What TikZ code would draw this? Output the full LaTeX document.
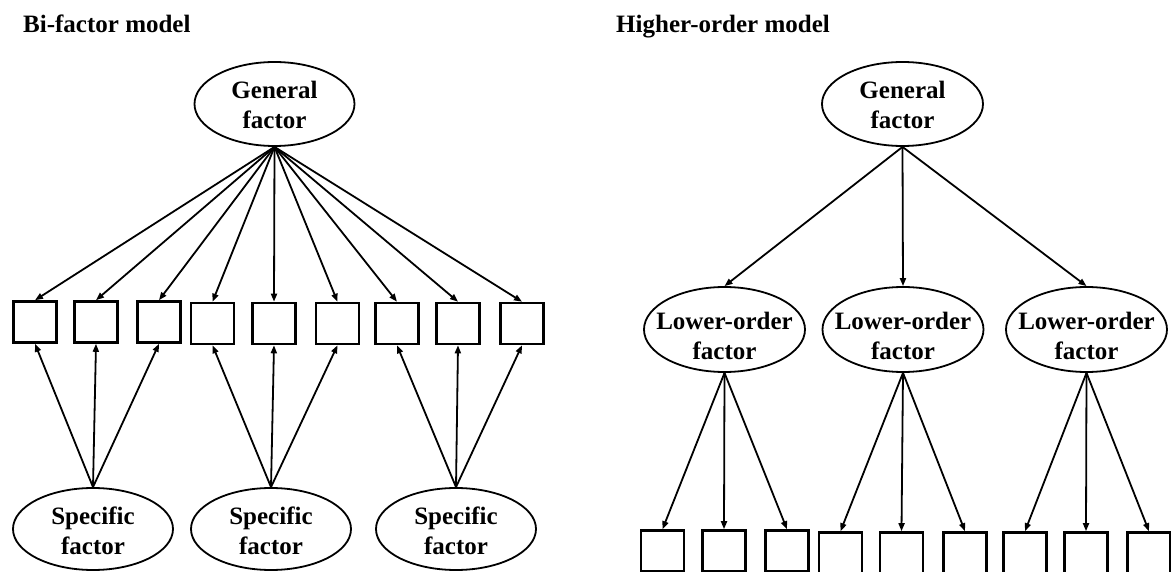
\documentclass[tikz,border=0pt]{standalone}
\usepackage{fontspec}
\setmainfont{Liberation Serif}
\usetikzlibrary{arrows.meta,shapes.geometric}
\begin{document}
\begin{tikzpicture}[x=1pt,y=-1pt,
  ell/.style={draw, ellipse, line width=1.8pt, inner sep=0pt},
  obs/.style={draw, rectangle, line width=2.6pt, minimum width=43pt, minimum height=41pt, inner sep=0pt},
  txt/.style={font=\fontsize{25}{30}\selectfont\bfseries, align=center, inner sep=0pt},
  arr/.style={line width=1.8pt, -{Triangle[length=8pt,width=6pt]}},
  ]
\useasboundingbox (0,0) rectangle (1171,572);

% titles
\node[txt, anchor=base west] (t1) at (23,33) {Bi-factor model};
\node[txt, anchor=base west] (t2) at (616,33) {Higher-order model};

% ---------------- Bi-factor model ----------------
\node[ell, minimum width=160pt, minimum height=84pt] (gL) at (274.5,104) {};
\node[txt] (gLt) at (274.5,104.5) {General\\factor};

\foreach \i/\x/\y in {1/35/322, 2/96/322, 3/159/322, 4/212.5/323.5, 5/274/323.5,
                      6/337.5/323.5, 7/397/323.5, 8/458/323.5, 9/522/323.5} {
  \node[obs] (bl\i) at (\x,\y) {};
}

\foreach \i/\x in {1/93, 2/271, 3/456} {
  \node[ell, minimum width=160pt, minimum height=82pt] (s\i) at (\x,529) {};
  \node[txt] (s\i t) at (\x,531) {Specific\\factor};
}

\foreach \i in {1,...,9} {
  \draw[arr] (gL.south) -- (bl\i.north);
}
\foreach \s/\a/\b/\c in {1/1/2/3, 2/4/5/6, 3/7/8/9} {
  \draw[arr] (s\s.north) -- (bl\a.south);
  \draw[arr] (s\s.north) -- (bl\b.south);
  \draw[arr] (s\s.north) -- (bl\c.south);
}

% ---------------- Higher-order model ----------------
\node[ell, minimum width=161pt, minimum height=84pt] (gR) at (902.5,104) {};
\node[txt] (gRt) at (902.5,104.5) {General\\factor};

\foreach \i/\x in {1/724.5, 2/903, 3/1086.5} {
  \node[ell, minimum width=161pt, minimum height=85pt] (lo\i) at (\x,329.5) {};
  \node[txt] (lo\i t) at (\x,335.5) {Lower-order\\factor};
  \draw[arr] (gR.south) -- (lo\i.north);
}

\foreach \i/\x/\y in {1/662.5/551, 2/724/551, 3/787/551, 4/840.5/553, 5/901.5/553,
                      6/965/553, 7/1025/553, 8/1086/553, 9/1149/553} {
  \node[obs] (br\i) at (\x,\y) {};
}

\foreach \l/\a/\b/\c in {1/1/2/3, 2/4/5/6, 3/7/8/9} {
  \draw[arr] (lo\l.south) -- (br\a.north);
  \draw[arr] (lo\l.south) -- (br\b.north);
  \draw[arr] (lo\l.south) -- (br\c.north);
}
\end{tikzpicture}
\end{document}
